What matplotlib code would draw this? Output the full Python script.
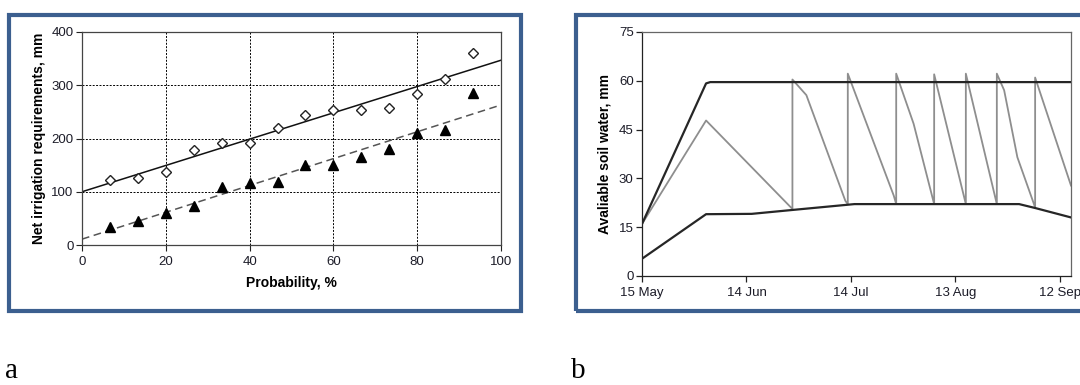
import numpy as np
import matplotlib
matplotlib.use("Agg")
import matplotlib.pyplot as plt
from matplotlib.patches import Rectangle

plt.rcParams["font.family"] = ["Liberation Sans", "DejaVu Sans"]

# ---- panel a data ----
prob = [6.67, 13.33, 20.0, 26.67, 33.33, 40.0, 46.67, 53.33, 60.0, 66.67, 73.33, 80.0, 86.67, 93.33]
nir_wet = [123, 125, 137, 178, 191, 192, 219, 244, 253, 253, 257, 283, 311, 360]
nir_dry = [33, 46, 61, 73, 108, 116, 118, 150, 150, 165, 181, 210, 216, 285]
trend_x = [0, 100]
trend_wet = [100, 347]
trend_dry = [11, 263]

# ---- panel b data (days after 15 May) ----
upper_days = [0, 18.4, 19.6, 123.2]
upper_asw = [16.0, 59.2, 59.6, 59.6]
lower_days = [0, 18.4, 31.5, 43.2, 61.0, 108.3, 112.9, 123.2]
lower_asw = [5.3, 19.0, 19.1, 20.3, 22.1, 22.1, 20.9, 18.0]
soil_days = [0, 18.4, 43.2, 43.2, 47.2, 58.4, 59.1, 59.1, 72.3, 73.0, 73.0, 78.0,
             83.9, 83.9, 93.0, 93.0, 101.9, 101.9, 104.0, 107.8, 112.6, 112.9, 112.9, 123.2]
soil_asw = [16.0, 47.8, 20.6, 60.4, 55.6, 23.1, 22.1, 62.2, 24.7, 22.1, 62.2, 46.8,
            22.1, 62.0, 22.1, 62.2, 22.1, 62.2, 57.1, 36.5, 22.0, 21.0, 61.0, 27.8]
date_ticks = [0, 30, 60, 90, 120]
date_labels = ["15 May", "14 Jun", "14 Jul", "13 Aug", "12 Sep"]

W, H = 1080, 385
fig = plt.figure(figsize=(W / 100, H / 100), dpi=100)


def frac(x0, y0, x1, y1):
    # pixel box (top-left origin) -> figure fraction rect
    return [x0 / W, 1 - y1 / H, (x1 - x0) / W, (y1 - y0) / H]


box_col = "#3c5f8f"
fig.patches.append(Rectangle((9 / W, 1 - 311 / H), 512 / W, 296 / H, transform=fig.transFigure,
                             fill=False, edgecolor=box_col, linewidth=3.0, zorder=0))
fig.patches.append(Rectangle((576 / W, 1 - 311 / H), 600 / W, 296 / H, transform=fig.transFigure,
                             fill=False, edgecolor=box_col, linewidth=3.0, zorder=0))

tick_col = "#1c1c28"
fs_tick = 9.5
fs_lab = 10

# ---- panel a ----
ax1 = fig.add_axes(frac(82, 32, 501, 245))
ax1.plot(trend_x, trend_wet, color="#111111", lw=1.1, zorder=2)
ax1.plot(trend_x, trend_dry, color="#555555", lw=1.1, ls=(0, (5, 3)), zorder=2)
ax1.plot(prob, nir_wet, ls="none", marker="D", ms=5.5, mfc="white", mec="#222222", mew=1.0, zorder=3)
ax1.plot(prob, nir_dry, ls="none", marker="^", ms=7, color="black", zorder=3)
ax1.set_xlim(0, 100)
ax1.set_ylim(0, 400)
ax1.set_xticks(range(0, 101, 20))
ax1.set_yticks(range(0, 401, 100))
ax1.grid(True, color="black", ls=(0, (2, 1.5)), lw=0.7)
ax1.set_axisbelow(True)
ax1.tick_params(direction="out", length=4, width=0.8, labelsize=fs_tick, colors="#222222",
                labelcolor=tick_col)
ax1.tick_params(axis="x", pad=4)
ax1.tick_params(axis="y", pad=2)
for s in ax1.spines.values():
    s.set_color("#444444")
    s.set_linewidth(0.9)
ax1.set_xlabel("Probability, %", fontsize=fs_lab, fontweight="bold", labelpad=6)
ax1.set_ylabel("Net irrigation requirements, mm", fontsize=fs_lab, fontweight="bold", labelpad=4)

# ---- panel b ----
ax2 = fig.add_axes(frac(642, 32, 1071, 276))
ax2.plot(soil_days, soil_asw, color="#8e8e8e", lw=1.3, zorder=2)
ax2.plot(upper_days, upper_asw, color="#262626", lw=1.6, zorder=3)
ax2.plot(lower_days, lower_asw, color="#262626", lw=1.6, zorder=3)
ax2.set_xlim(0, 123.2)
ax2.set_ylim(0, 75)
ax2.set_yticks(range(0, 76, 15))
ax2.set_xticks(date_ticks)
ax2.set_xticklabels(date_labels)
ax2.tick_params(direction="out", length=4, width=0.9, labelsize=fs_tick, colors="#222222",
                labelcolor=tick_col, pad=2)
ax2.tick_params(axis="x", pad=4)
for side, s in ax2.spines.items():
    s.set_linewidth(0.9)
    s.set_color("#222222" if side in ("left", "bottom") else "#666666")
ax2.set_ylabel("Avaliable soil water, mm", fontsize=fs_lab, fontweight="bold", labelpad=5)

# panel letters
fig.text(5 / W, 1 - 384 / H, "a", family=["Liberation Serif", "DejaVu Serif"], fontsize=21,
         va="bottom", ha="left")
fig.text(571 / W, 1 - 384 / H, "b", family=["Liberation Serif", "DejaVu Serif"], fontsize=21,
         va="bottom", ha="left")

fig.savefig("out.png", dpi=100)
